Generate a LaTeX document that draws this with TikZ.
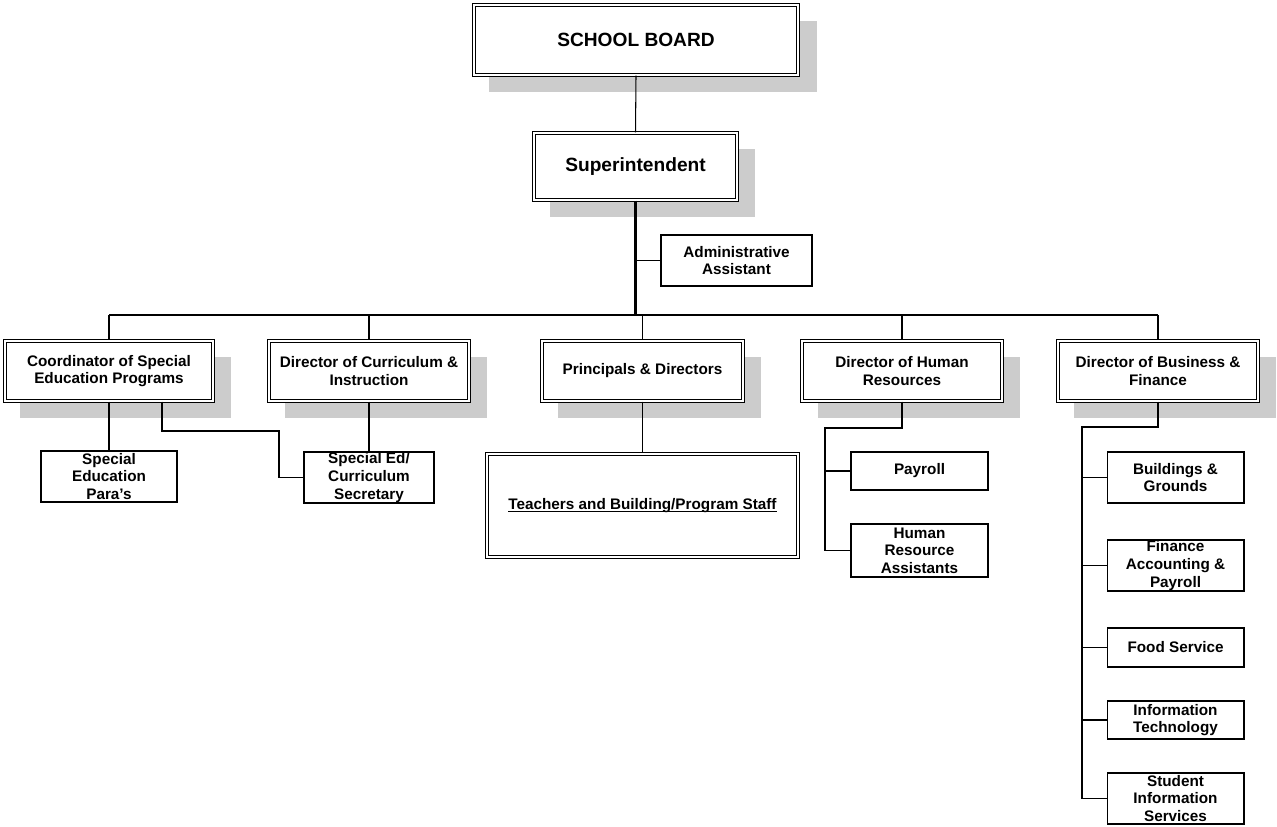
\documentclass[tikz,border=0pt]{standalone}
\usepackage{fontspec}
\setmainfont{Liberation Sans}
\usetikzlibrary{shadows}
\definecolor{shade}{gray}{0.80}
\newcommand\myunderline[1]{\setbox0\hbox{#1}\rlap{\rule[-1.3pt]{\wd0}{0.6pt}}\box0}
\tikzset{
  base/.style={draw=black, fill=white, line width=0.6pt, inner sep=0pt, align=center,
    font=\fontsize{8.7}{10}\selectfont\bfseries},
  dbox/.style={base, double=white, double distance=1.2pt, line width=0.6pt,
    drop shadow={shadow xshift=0.33cm, shadow yshift=-0.33cm, shadow scale=1.012, fill=shade, opacity=1}},
  dboxns/.style={base, double=white, double distance=1.2pt, line width=0.6pt},
  sbox/.style={base},
  big/.style={font=\fontsize{10.9}{12}\selectfont\bfseries},
  conn/.style={draw=black, line width=0.6pt},
  trunk/.style={draw=black, line width=1.2pt}
}
\begin{document}
\begin{tikzpicture}[x=0.02cm, y=-0.02cm]
\useasboundingbox[fill=white] (0,0) rectangle (1277,827);

% top
\node[dbox, big, minimum width=6.48cm, minimum height=1.40cm] (board) at (636,40) {SCHOOL BOARD};
\node[dbox, big, minimum width=4.06cm, minimum height=1.34cm] (sup) at (635.5,166.5) {Superintendent};
\node[sbox, minimum width=3.02cm, minimum height=1.02cm] (admin) at (736.5,260.5) {Administrative\\Assistant};

% level 2
\node[dbox, minimum width=4.16cm, minimum height=1.20cm] (coord) at (109,371) {Coordinator of Special\\Education Programs};
\node[dbox, minimum width=4.00cm, minimum height=1.20cm] (curr) at (369,371) {Director of Curriculum \&\\Instruction};
\node[dbox, minimum width=4.02cm, minimum height=1.20cm] (princ) at (642.5,371) {Principals \& Directors};
\node[dbox, minimum width=4.00cm, minimum height=1.20cm] (hr) at (902,371) {Director of Human\\Resources};
\node[dbox, minimum width=4.00cm, minimum height=1.20cm] (busi) at (1158,371) {Director of Business \&\\Finance};

% level 3
\node[sbox, minimum width=2.72cm, minimum height=1.02cm] (para) at (109,476.5) {Special\\Education\\Para’s};
\node[sbox, minimum width=2.60cm, minimum height=1.02cm] (sec) at (369,477.5) {Special Ed/\\Curriculum\\Secretary};
\node[dboxns, minimum width=6.22cm, minimum height=2.06cm] (teach) at (642.5,505.5) {\myunderline{Teachers and Building/Program Staff}};
\node[sbox, minimum width=2.74cm, minimum height=0.76cm] (payroll) at (919.5,471) {Payroll};
\node[sbox, minimum width=2.74cm, minimum height=1.06cm] (hra) at (919.5,550.5) {Human\\Resource\\Assistants};
\node[sbox, minimum width=2.74cm, minimum height=1.02cm] (bg) at (1175.5,477.5) {Buildings \&\\Grounds};
\node[sbox, minimum width=2.74cm, minimum height=1.02cm] (fin) at (1175.5,565.5) {Finance\\Accounting \&\\Payroll};
\node[sbox, minimum width=2.74cm, minimum height=0.78cm] (food) at (1175.5,647.5) {Food Service};
\node[sbox, minimum width=2.74cm, minimum height=0.76cm] (it) at (1175.5,720) {Information\\Technology};
\node[sbox, minimum width=2.74cm, minimum height=1.02cm] (sis) at (1175.5,798.5) {Student\\Information\\Services};

% helper coordinates
\coordinate (busy) at (0,315);
\coordinate (k1) at (279,431);
\coordinate (hrk) at (825,428);
\coordinate (bk) at (1082,427);

% connectors
\draw[conn] (board.south) -- (sup.north);
\draw[trunk] (sup.south) -- (sup.south |- busy);
\draw[conn] (sup.south |- admin.west) -- (admin.west);
\draw[conn] (coord.north |- busy) -- (busi.north |- busy);
\draw[conn] (coord.north |- busy) -- (coord.north);
\draw[conn] (curr.north |- busy) -- (curr.north);
\draw[conn] (princ.north |- busy) -- (princ.north);
\draw[conn] (hr.north |- busy) -- (hr.north);
\draw[conn] (busi.north |- busy) -- (busi.north);

\draw[conn] (coord.south) -- (para.north);
\draw[conn] (curr.south) -- (sec.north);
\draw[conn] ([xshift=1.06cm]coord.south) |- (k1) |- (sec.west);
\draw[conn] (princ.south) -- (teach.north);

\draw[conn] (hr.south) |- (hrk) |- (payroll.west);
\draw[conn] (hrk) |- (hra.west);

\draw[trunk] (busi.south) |- (bk) -- (bk |- sis.west);
\draw[conn] (bk |- bg.west) -- (bg.west);
\draw[conn] (bk |- fin.west) -- (fin.west);
\draw[conn] (bk |- food.west) -- (food.west);
\draw[conn] (bk |- it.west) -- (it.west);
\draw[conn] (bk |- sis.west) -- (sis.west);
\end{tikzpicture}
\end{document}
